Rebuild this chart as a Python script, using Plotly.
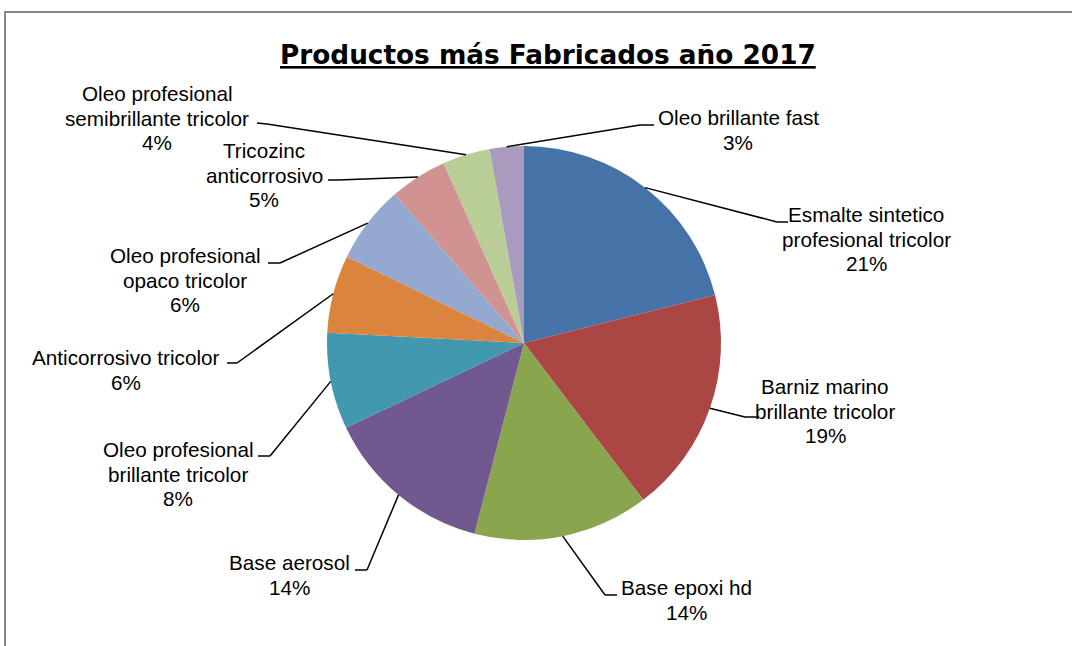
import math
import plotly.graph_objects as go

# ---------------- data ----------------
categories = [
    "Esmalte sintetico profesional tricolor",
    "Barniz marino brillante tricolor",
    "Base epoxi hd",
    "Base aerosol",
    "Oleo profesional brillante tricolor",
    "Anticorrosivo tricolor",
    "Oleo profesional opaco tricolor",
    "Tricozinc anticorrosivo",
    "Oleo profesional semibrillante tricolor",
    "Oleo brillante fast",
]
values = [21.1, 18.6, 14.4, 13.9, 7.9, 6.4, 6.4, 4.7, 3.9, 2.8]
colors = ["#4572A7", "#AA4643", "#89A54E", "#71588F", "#4198AF",
          "#DB843D", "#93A9CF", "#D19392", "#B9CD96", "#A99BBD"]
title_text = "Productos más Fabricados año 2017"

# ---------------- layout (pixels) ----------------
W, H = 1072, 646
CX, CY, R = 524, 343, 197
label_lines = [
    ["Esmalte sintetico", "profesional tricolor"],
    ["Barniz marino", "brillante tricolor"],
    ["Base epoxi hd"],
    ["Base aerosol"],
    ["Oleo profesional", "brillante tricolor"],
    ["Anticorrosivo tricolor"],
    ["Oleo profesional", "opaco tricolor"],
    ["Tricozinc", "anticorrosivo"],
    ["Oleo profesional", "semibrillante tricolor"],
    ["Oleo brillante fast"],
]
label_center = [(866, 239), (825, 411), (686, 600), (289, 575), (178, 474),
                (126, 370), (185, 280), (264, 175), (157, 118), (738, 130)]
elbow = [(777, 222), (745, 417), (605, 595), (367, 570), (270, 456),
         (237, 363), (280, 263), (338, 180), (267, 124), (640, 125)]
tick_end = [(788, 222), (758, 417), (617, 595), (355, 570), (258, 456),
            (227, 363), (268, 263), (328, 180), (257, 123), (654, 125)]
LINE_H = 24.5
FONT = "Liberation Sans, Arial, sans-serif"

fig = go.Figure()

fig.add_trace(go.Pie(
    labels=categories, values=values, sort=False, direction="clockwise",
    rotation=0, textinfo="none", hoverinfo="label+percent",
    marker=dict(colors=colors, line=dict(width=0)),
    domain=dict(x=[(CX - R) / W, (CX + R) / W],
                y=[1 - (CY + R) / H, 1 - (CY - R) / H]),
    showlegend=False,
))

total = sum(values)
shapes = []
annotations = []
cum = 0.0
for i, v in enumerate(values):
    mid = (cum + v / 2) / total * 2 * math.pi
    cum += v
    ax = CX + R * math.sin(mid)
    ay = CY - R * math.cos(mid)
    ex, ey = elbow[i]
    tx, ty = tick_end[i]
    for (x0, y0, x1, y1) in [(ax, ay, ex, ey), (ex, ey, tx, ty)]:
        shapes.append(dict(type="line", xref="x", yref="y", x0=x0, y0=y0,
                           x1=x1, y1=y1, line=dict(color="black", width=1.5),
                           layer="above"))
    pct = f"{round(v / total * 100)}%"
    lines = label_lines[i] + [pct]
    cx, cy = label_center[i]
    n = len(lines)
    for j, t in enumerate(lines):
        annotations.append(dict(
            x=cx, y=cy + (j - (n - 1) / 2) * LINE_H, xref="x", yref="y",
            text=t, showarrow=False, xanchor="center", yanchor="middle",
            font=dict(family=FONT, size=20.7, color="black")))

annotations.append(dict(
    x=548, y=55, xref="x", yref="y", showarrow=False,
    text=f"<u><b>{title_text}</b></u>", xanchor="center", yanchor="middle",
    font=dict(family="DejaVu Sans, sans-serif", size=26.3, color="black")))

# chart border
shapes.append(dict(type="rect", xref="x", yref="y", x0=5, y0=12, x1=W + 20,
                   y1=H + 20, line=dict(color="#868686", width=2),
                   layer="below"))

fig.update_layout(
    width=W, height=H, margin=dict(l=0, r=0, t=0, b=0),
    paper_bgcolor="white", plot_bgcolor="white",
    xaxis=dict(range=[0, W], visible=False, fixedrange=True, domain=[0, 1]),
    yaxis=dict(range=[H, 0], visible=False, fixedrange=True, domain=[0, 1]),
    shapes=shapes, annotations=annotations,
)

fig.write_html("out.html")
